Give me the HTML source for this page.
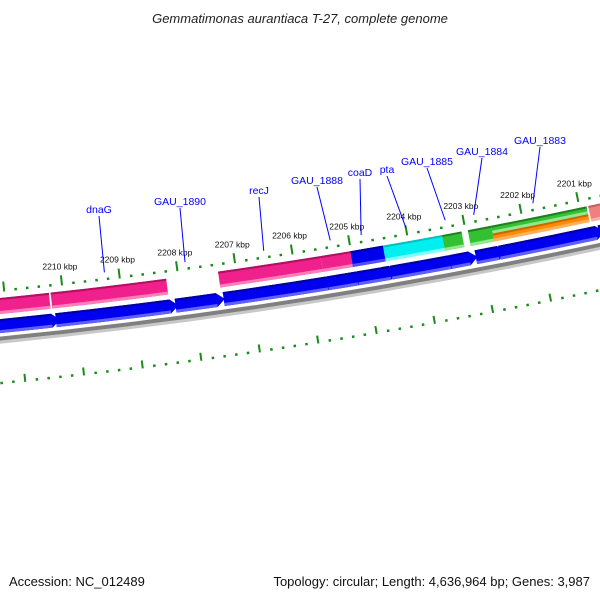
<!DOCTYPE html>
<html><head><meta charset="utf-8"><style>
html,body{margin:0;padding:0;background:#fff}
svg{display:block;font-family:"Liberation Sans",sans-serif}
</style></head><body>
<svg id="map" width="600" height="600" viewBox="0 0 600 600">
<text x="300" y="23" text-anchor="middle" font-style="italic" font-size="13" fill="#222">Gemmatimonas aurantiaca T-27, complete genome</text>
<text x="9" y="586" font-size="13" fill="#111">Accession: NC_012489</text>
<text x="590" y="586" text-anchor="end" font-size="13" fill="#111">Topology: circular; Length: 4,636,964 bp; Genes: 3,987</text>
<g id="g"></g>
</svg>
<script>
// data (kbp)
const tickKbp = [2210,2209,2208,2207,2206,2205,2204,2203,2202,2201];
const tickLabels = ["2210 kbp","2209 kbp","2208 kbp","2207 kbp","2206 kbp","2205 kbp","2204 kbp","2203 kbp","2202 kbp","2201 kbp"];
const fwdStart = [2211.3,2210.21,2207.31,2205.53,2205.01,2204.44,2203.41,2202.96,2202.55,2202.55,2200.85];
const fwdEnd   = [2210.24,2208.21,2205.53,2205.01,2204.44,2203.41,2203.07,2202.55,2200.88,2200.88,2200.3];
const fwdColor = ["#f0208c","#f0208c","#f0208c","#f0208c","#0000ee","#00f0f0","#33c033","#33c033","#33c033","#ff8c00","#f08080"];
const fwdPart  = ["full","full","full","full","full","full","full","full","top","bottom","full"];
const revStart = [2211.3,2210.17,2208.11,2207.28,2205.48,2204.96,2204.38,2203.35,2202.91,2202.50,2200.76];
const revEnd   = [2210.24,2208.20,2207.40,2205.49,2204.97,2204.40,2203.36,2203.02,2202.52,2200.81,2200.3];
const geneNames = ["dnaG","GAU_1890","recJ","GAU_1888","coaD","pta","GAU_1885","GAU_1884","GAU_1883"];
const geneMid   = [2209.25,2207.85,2206.48,2205.32,2204.78,2204.0,2203.31,2202.81,2201.77];
// layout
const labelPos = [[99,219],[180,211],[259,200],[317,190],[360,182],[387,179],[427,171],[482,161],[540,150]];

const cx=-540, cy=-5082, A0=83.60*Math.PI/180, dA=0.6167*Math.PI/180;
const Rt=5401;
function ang(k){return A0-(2210-k)*dA;}
// off: positive = visually upward (toward ticks/labels)
function P(k,off){const a=ang(k), r=Rt-off;return [cx+r*Math.cos(a), cy+r*Math.sin(a)];}
const g=document.getElementById('g');
const NS="http://www.w3.org/2000/svg";
function mk(t,attrs){const e=document.createElementNS(NS,t);for(const k in attrs)e.setAttribute(k,attrs[k]);g.appendChild(e);return e;}
function band(k1,k2,o1,o2,fill,arrow){
  // o2 upper offset, o1 lower offset
  const r2=Rt-o2, r1=Rt-o1;
  const a=P(k1,o2),b=P(k2,o2),c=P(k2,o1),d=P(k1,o1);
  let s=`M${a[0]},${a[1]} A${r2},${r2} 0 0 0 ${b[0]},${b[1]} `;
  if(arrow){const t=P(k2-0.14,(o1+o2)/2);s+=`L${t[0]},${t[1]} `;}
  s+=`L${c[0]},${c[1]} A${r1},${r1} 0 0 1 ${d[0]},${d[1]} Z`;
  return mk('path',{d:s,fill:fill});
}
function arcLine(off,stroke,w,name){const r=Rt-off;const a=P(2211.5,off),b=P(2199.8,off);
  const e=mk('path',{d:`M${a[0]},${a[1]} A${r},${r} 0 0 0 ${b[0]},${b[1]}`,fill:'none',stroke:stroke,'stroke-width':w});
  
  }
arcLine(-50,'#c8c8c8',3,'backbone-shadow');
arcLine(-46.5,'#808080',4,'backbone');
const light={"#f0208c":"#ff80b8","#0000ee":"#5050ff","#00f0f0":"#80ffff","#33c033":"#90e890","#ff8c00":"#ffb060","#f08080":"#f8b0b0"};
const dark={"#f0208c":"#b0105f","#0000ee":"#0000a0","#00f0f0":"#00c0c0","#33c033":"#208020","#ff8c00":"#cc6600","#f08080":"#c06060"};
for(let i=0;i<fwdStart.length;i++){
  let hi=-6, lo=-22;
  if(fwdPart[i]==="top") lo=-14;
  if(fwdPart[i]==="bottom") hi=-14;
  const e=band(fwdStart[i],fwdEnd[i],lo,hi,fwdColor[i],false);
  
  
  const t=band(fwdStart[i],fwdEnd[i],hi-2,hi,dark[fwdColor[i]],false);
  
  
  const l=band(fwdStart[i],fwdEnd[i],lo,lo+3,light[fwdColor[i]],false);
  
  
}
for(let i=0;i<revStart.length;i++){
  const e=band(revStart[i],revEnd[i],-41,-27,'#0000f0',true);
  
  
  const t=band(revStart[i],revEnd[i],-29,-27,'#0000a0',false);
  
  
  const l=band(revStart[i],revEnd[i],-41,-38,'#6060ff',false);
  
  
}
function tickSet(base,off0,majLen,prefix){
  for(let n=-12; n<=65; n++){
    const kk=base+2-n*0.2;
    const major=(n%5===0);
    const len=major?majLen:2.5;
    const a=P(kk,off0), b=P(kk,off0+len);
    const e=mk('line',{x1:a[0],y1:a[1],x2:b[0],y2:b[1],stroke:'#1a8a1a','stroke-width':major?2:2.5});
    
    
  }
}
tickSet(2210,0,10,'outer');
tickSet(2209.8,-92,8,'inner');
tickKbp.forEach((k,i)=>{
  const p=P(k,19);
  const t=mk('text',{x:p[0],y:p[1]+3,'text-anchor':'middle','font-size':'8.5',fill:'#111'});
  t.textContent=tickLabels[i];
  
  
});
geneNames.forEach((n,i)=>{
  const e=P(geneMid[i],8);
  const lp=labelPos[i];
  const ln=mk('line',{x1:lp[0],y1:lp[1]-3,x2:e[0],y2:e[1],stroke:'#0000ff','stroke-width':1});
  
  
  const t=mk('text',{x:lp[0],y:lp[1]-6,'text-anchor':'middle','font-size':'10.5',fill:'#0000ff'});
  t.textContent=n;
  
  
});
</script>
</body></html>
